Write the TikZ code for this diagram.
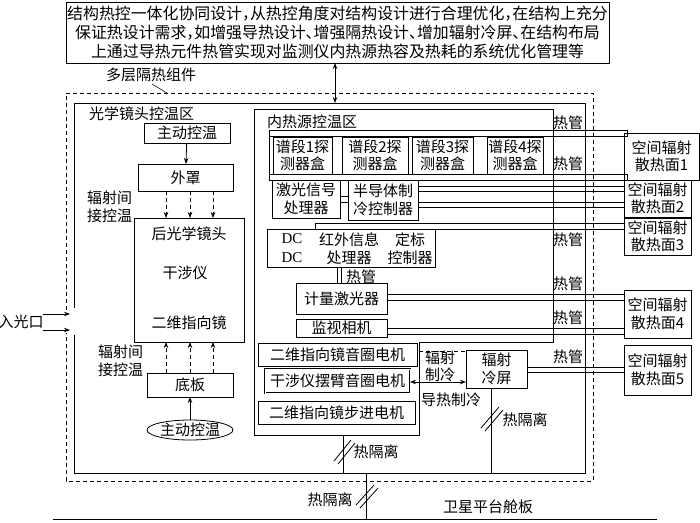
\documentclass[tikz,border=0pt]{standalone}
\usepackage{fontspec}
\setmainfont{Liberation Serif}
\newfontfamily\cjk{Noto Sans CJK SC}
\usetikzlibrary{arrows.meta,shapes.geometric,calc}
\newcommand\hp[1]{\makebox[0.5em][l]{#1}}
\newcommand\mkbox[7][]{\node[box,#1,minimum width={#5-#3},minimum height={#6-#4}] (#2) at ({(#3+#5)/2},{(#4+#6)/2}) {#7};}
\begin{document}
\begin{tikzpicture}[x=1pt,y=-1pt,line width=0.8pt,
  every node/.style={font=\cjk\fontsize{15}{17.5}\selectfont,inner sep=0pt,outer sep=0pt,align=center},
  box/.style={draw,rectangle},
  arr/.style={-{Stealth[length=6pt,width=4.5pt]}},
  darr/.style={{Stealth[length=6pt,width=4.5pt]}-{Stealth[length=6pt,width=4.5pt]}},
  dasharr/.style={arr,dash pattern=on 4pt off 3pt},
  frame/.style={dash pattern=on 4pt off 3pt},
]
\useasboundingbox (0,0) rectangle (700,522);
\fill[white] (0,0) rectangle (700,522);

% top text box
\node[box,font=\cjk\fontsize{15.9}{18.8}\selectfont,minimum width=543,minimum height=61] (top) at (337.5,32.5)
 {结构热控一体化协同设计\hp{，}从热控角度对结构设计进行合理优化\hp{，}在结构上充分\\
  保证热设计需求\hp{，}如增强导热设计\hp{、}增强隔热设计\hp{、}增加辐射冷屏\hp{、}在结构布局\\
  上通过导热元件热管实现对监测仪内热源热容及热耗的系统优化管理等};

% frames
\draw[frame] (66,310) -- (66,93) -- (593,93) -- (593,481) -- (66,481) -- (66,333);
\draw (74,308) -- (74,103) -- (585,103) -- (585,473) -- (74,473) -- (74,335);
\coordinate (frametop) at (335,103);
\draw[darr] (top.south -| frametop) -- (frametop);

\node (mli) at (151,75) {多层隔热组件};
\coordinate (mlipt) at (167,93);
\draw[line width=0.6pt] (152,84) -- (mlipt);

% optical zone
\node[anchor=west] (optlbl) at (89,114) {光学镜头控温区};
\mkbox{act1}{144}{123}{230}{143}{主动控温}
\mkbox{cover}{138}{164}{233}{191}{外罩}
\mkbox{optics}{134}{218}{244}{342}{}
\node (t1) at (189,234) {后光学镜头};
\node (t2) at (185,273) {干涉仪};
\node (t3) at (189,323) {二维指向镜};
\mkbox{base}{147}{373}{233}{397}{底板}
\node[draw,ellipse,minimum width=86,minimum height=20] (act2) at (190,430) {主动控温};
\draw[arr] (act1) -- (cover);
\draw[arr] (act2) -- (base);
\foreach \xx in {166,190,213}{
  \draw[dasharr] (cover.south -| \xx,0) -- (optics.north -| \xx,0);
  \draw[dasharr] (base.north -| \xx,0) -- (optics.south -| \xx,0);
}
\node[anchor=west,align=left] (rad1) at (87,207) {辐射间\\接控温};
\node[anchor=west,align=left] (rad2) at (98,361) {辐射间\\接控温};

% entrance
\node (inlet) at (21,322) {入光口};
\coordinate (in1) at (70,314);
\coordinate (in2) at (70,330);
\draw[arr] (43,314) -- (in1);
\draw[arr] (43,330) -- (in2);

% inner heat source zone
\draw (254,109) -- (553,109) -- (553,342) -- (419,342) -- (419,435) -- (254,435) -- cycle;
\node[anchor=west] (srclbl) at (267,122) {内热源控温区};

% detector assembly with heat pipes
\draw (269,130) -- (269,180);
\draw (269,130) -- (627,130) -- (627,136) -- (269,136);
\draw (269,174) -- (627,174) -- (627,180) -- (269,180);
\mkbox{d1}{273}{137}{332}{174}{谱段1探\\测器盒}
\mkbox{d2}{342}{137}{408}{174}{谱段2探\\测器盒}
\mkbox{d3}{412}{137}{473}{174}{谱段3探\\测器盒}
\mkbox{d4}{487}{137}{543}{174}{谱段4探\\测器盒}

\mkbox{laser}{272}{180}{340}{218}{激光信号\\处理器}
\mkbox{semi}{348}{180}{418}{220}{半导体制\\冷控制器}
\draw (laser.east |- 0,196) -- (semi.west |- 0,196);
\draw (laser.east |- 0,202) -- (semi.west |- 0,202);

\mkbox{dc}{267}{229}{435}{267}{}
\node[font=\rmfamily\fontsize{15}{17.5}\selectfont] (dct) at (292,239) {DC};
\node[font=\rmfamily\fontsize{15}{17.5}\selectfont] (dcb) at (292,258) {DC};
\node (ir) at (349,248.5) {红外信息\\处理器};
\node (cal) at (410,248.5) {定标\\控制器};

\mkbox{metro}{296}{283}{387}{314}{计量激光器}
\draw (metro.north -| 337,0) -- (dc.south -| 337,0);
\draw (metro.north -| 341,0) -- (dc.south -| 341,0);
\node (hpm) at (361,277) {热管};

\mkbox{cam}{296}{319}{387}{337}{监视相机}
\mkbox{m1}{258}{343}{417}{366}{二维指向镜音圈电机}
\mkbox[double,double distance=0.8pt]{m2}{265}{369}{410}{393}{干涉仪摆臂音圈电机}
\mkbox{m3}{258}{401}{415}{424}{二维指向镜步进电机}

% radiation cold screen
\mkbox{cold}{466}{350}{527}{388}{辐射\\冷屏}
\draw[frame] (419,351) -- (cold.west |- 0,351);
\node (radc) at (440,366.5) {辐射\\制冷};
\draw[darr] (m2.east |- 0,382) -- (cold.west |- 0,382);
\node (cond) at (451,400) {导热制冷};

% space radiators
\mkbox{s1}{624}{133}{699}{180}{空间辐射\\散热面1}
\mkbox{s2}{624}{180}{691}{217}{空间辐射\\散热面2}
\mkbox{s3}{624}{218}{691}{255}{空间辐射\\散热面3}
\mkbox{s4}{624}{290}{691}{338}{空间辐射\\散热面4}
\mkbox{s5}{624}{345}{691}{395}{空间辐射\\散热面5}

% heat pipes
\foreach \yy in {186,191,202,207}{\draw (semi.east |- 0,\yy) -- (s2.west |- 0,\yy);}
\draw (dc.north -| 315,0) -- (315,223) -- (s3.west |- 0,223);
\draw (dc.north east) -- (s3.west |- dc.north east);
\draw (metro.east |- 0,294) -- (s4.west |- 0,294);
\draw (metro.east |- 0,300) -- (s4.west |- 0,300);
\draw (cam.east |- 0,328) -- (s4.west |- 0,328);
\draw (cam.east |- 0,334) -- (s4.west |- 0,334);
\draw (cold.east |- 0,367) -- (s5.west |- 0,367);
\draw (cold.east |- 0,372) -- (s5.west |- 0,372);
\foreach \yy/\nn in {123/h1,164/h2,240/h3,284/h4,318/h5,357/h6}{\node (\nn) at (568,\yy) {热管};}

% thermal isolation
\coordinate (srcbot) at (343,435);
\coordinate (framebot1) at (343,473);
\draw (srcbot) -- (framebot1);
\draw (334,461) -- (351,440); \draw (338,464) -- (355,443);
\node (iso1) at (376,452) {热隔离};

\coordinate (coldbot) at (491,473);
\draw (cold.south -| coldbot) -- (coldbot);
\draw (481,428) -- (499,407); \draw (485,431) -- (503,410);
\node (iso2) at (525,420) {热隔离};

\coordinate (framebot2) at (366,473);
\coordinate (panel) at (366,519);
\draw (framebot2) -- (panel);
\draw (356,505) -- (374,485); \draw (360,508) -- (378,488);
\node (iso3) at (330,500) {热隔离};

\draw (53,519) -- (657,519);
\node (plat) at (488,507) {卫星平台舱板};
\end{tikzpicture}
\end{document}
